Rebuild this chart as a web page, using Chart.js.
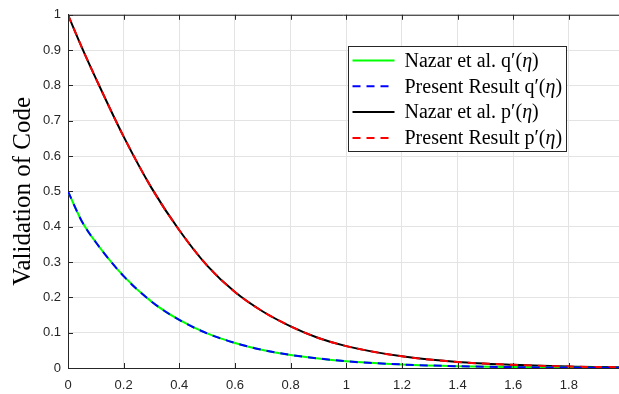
<!DOCTYPE html>
<html>
<head>
<meta charset="utf-8">
<script src="https://cdn.jsdelivr.net/npm/chart.js@4.4.1/dist/chart.umd.min.js"></script>
<style>
html, body { margin: 0; padding: 0; background: #fff; }
#wrap { width: 619px; height: 394px; }
</style>
</head>
<body>
<div id="wrap"><canvas id="myChart"></canvas></div>
<script>
var etaValues = [0, 0.05, 0.1, 0.2, 0.3, 0.4, 0.5, 0.6, 0.7, 0.8, 0.9, 1.0, 1.2, 1.4, 1.6, 1.8, 2.0];
var qNazar   = [0.5, 0.415, 0.356, 0.26, 0.188, 0.136, 0.098, 0.071, 0.051, 0.037, 0.027, 0.019, 0.010, 0.005, 0.0025, 0.0012, 0.0006];
var qPresent = [0.5, 0.415, 0.356, 0.26, 0.188, 0.136, 0.098, 0.071, 0.051, 0.037, 0.027, 0.019, 0.010, 0.005, 0.0025, 0.0012, 0.0006];
var pNazar   = [1, 0.907, 0.82, 0.655, 0.51, 0.39, 0.29, 0.215, 0.16, 0.118, 0.085, 0.062, 0.033, 0.017, 0.009, 0.004, 0.002];
var pPresent = [1, 0.907, 0.82, 0.655, 0.51, 0.39, 0.29, 0.215, 0.16, 0.118, 0.085, 0.062, 0.033, 0.017, 0.009, 0.004, 0.002];
var xTicks = [0, 0.2, 0.4, 0.6, 0.8, 1, 1.2, 1.4, 1.6, 1.8];
var yTicks = [0, 0.1, 0.2, 0.3, 0.4, 0.5, 0.6, 0.7, 0.8, 0.9, 1];
var seriesLabels = ["Nazar et al. q\u2032(\u03b7)", "Present Result q\u2032(\u03b7)", "Nazar et al. p\u2032(\u03b7)", "Present Result p\u2032(\u03b7)"];
var seriesColors = ["#00ff00", "#0000ff", "#000000", "#ff0000"];
var seriesDashed = [false, true, false, true];

var axisColor = "#262626";
var serif = '"Liberation Serif", "Times New Roman", serif';

function pts(ys) {
    return etaValues.map(function (x, i) { return { x: x, y: ys[i] }; });
}

function fmt(v) {
    return String(+Number(v).toFixed(2));
}

var allSeries = [qNazar, qPresent, pNazar, pPresent];
var datasets = allSeries.map(function (ys, i) {
    return {
        label: seriesLabels[i],
        data: pts(ys),
        borderColor: seriesColors[i],
        borderWidth: 2,
        borderDash: seriesDashed[i] ? [8, 6] : [],
        pointRadius: 0,
        fill: false,
        cubicInterpolationMode: "monotone",
        order: seriesDashed[i] ? 0 : 1,
    };
});

// box on top edge + inward tick marks, like matlab
var frame = {
    id: "frame",
    afterDatasetsDraw: function (chart) {
        var ctx = chart.ctx, a = chart.chartArea;
        var xs = chart.scales.x, ys = chart.scales.y;
        ctx.save();
        ctx.strokeStyle = axisColor;
        ctx.lineWidth = 1;
        ctx.setLineDash([]);
        ctx.beginPath();
        ctx.moveTo(a.left, a.top + 0.5);
        ctx.lineTo(a.right, a.top + 0.5);
        xTicks.forEach(function (v) {
            var px = Math.round(xs.getPixelForValue(v)) + 0.5;
            ctx.moveTo(px, a.bottom);
            ctx.lineTo(px, a.bottom - 5);
            ctx.moveTo(px, a.top);
            ctx.lineTo(px, a.top + 5);
        });
        yTicks.forEach(function (v) {
            var py = Math.round(ys.getPixelForValue(v)) + 0.5;
            ctx.moveTo(a.left, py);
            ctx.lineTo(a.left + 5, py);
        });
        ctx.stroke();
        ctx.restore();
    },
};

function drawLabel(ctx, text, x, y, size) {
    var parts = text.split("\u03b7");
    parts.forEach(function (part, i) {
        ctx.font = size + "px " + serif;
        ctx.fillText(part, x, y);
        x += ctx.measureText(part).width;
        if (i < parts.length - 1) {
            ctx.font = "italic " + size + "px " + serif;
            ctx.fillText("\u03b7", x, y);
            x += ctx.measureText("\u03b7").width;
        }
    });
}

var legendBox = {
    id: "legendBox",
    afterDraw: function (chart) {
        var ctx = chart.ctx;
        var bx = 348.5, by = 46.5, bw = 218, bh = 105;
        ctx.save();
        ctx.fillStyle = "#fff";
        ctx.fillRect(bx, by, bw, bh);
        ctx.strokeStyle = axisColor;
        ctx.lineWidth = 1;
        ctx.strokeRect(bx, by, bw, bh);
        ctx.textBaseline = "middle";
        ctx.fillStyle = "#000";
        seriesLabels.forEach(function (lab, i) {
            var y = by + 14 + i * 25.8;
            ctx.strokeStyle = seriesColors[i];
            ctx.lineWidth = 2;
            ctx.setLineDash(seriesDashed[i] ? [8, 6] : []);
            ctx.beginPath();
            ctx.moveTo(bx + 4, y);
            ctx.lineTo(bx + 46, y);
            ctx.stroke();
            ctx.setLineDash([]);
            drawLabel(ctx, lab, bx + 56, y + 1, 20);
        });
        ctx.restore();
    },
};

new Chart("myChart", {
    type: "line",
    data: { datasets: datasets },
    plugins: [frame, legendBox],
    options: {
        responsive: true,
        maintainAspectRatio: false,
        animation: false,
        layout: { padding: { top: 11, right: 0, bottom: 0, left: 0 } },
        plugins: {
            legend: { display: false },
            tooltip: { enabled: false },
        },
        scales: {
            x: {
                type: "linear",
                min: 0,
                max: 1.98,
                afterBuildTicks: function (s) { s.ticks = xTicks.map(function (v) { return { value: v }; }); },
                afterFit: function (s) { s.height = 26; },
                grid: { color: "#e3e3e3", drawTicks: false },
                border: { color: axisColor, width: 1 },
                ticks: { color: axisColor, padding: 10, maxRotation: 0, callback: fmt, font: { family: '"Liberation Sans", Arial', size: 13 } },
            },
            y: {
                min: 0,
                max: 1,
                afterBuildTicks: function (s) { s.ticks = yTicks.map(function (v) { return { value: v }; }); },
                afterFit: function (s) { s.width = 68; },
                grid: { color: "#e3e3e3", drawTicks: false },
                border: { color: axisColor, width: 1 },
                ticks: { color: axisColor, padding: 7, callback: fmt, font: { family: '"Liberation Sans", Arial', size: 13 } },
                title: {
                    display: true,
                    text: "Validation of Code",
                    color: "#000",
                    padding: { top: 8, bottom: 0 },
                    font: { family: serif, size: 25 },
                },
            },
        },
    },
});
</script>
</body>
</html>
